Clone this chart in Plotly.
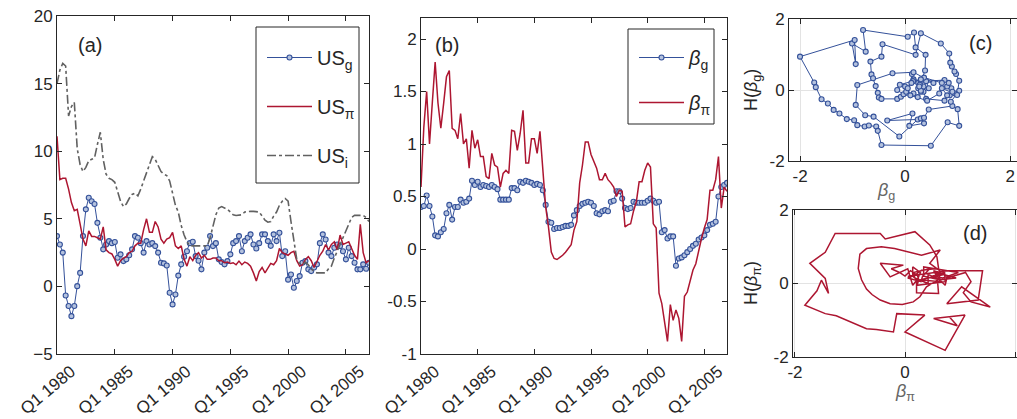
import plotly.graph_objects as go
import pandas as pd

W, H = 1017, 419
FONT = "Liberation Sans, Arial, sans-serif"
DARK = "#262626"
BLUE = "#34519a"
RED = "#ad1631"
GREY = "#616161"


def px(x):
    return x / W


def py(y):
    return 1 - y / H


# ---------------- data ----------------
quarters = pd.date_range("1980-01-01", periods=109, freq="QS")
tick_dates = ["1980-01-01", "1985-01-01", "1990-01-01", "1995-01-01", "2000-01-01", "2005-01-01"]
tick_text = ["Q1 1980", "Q1 1985", "Q1 1990", "Q1 1995", "Q1 2000", "Q1 2005"]

us_g = [3.72, 3.1, 2.5, -0.67, -1.45, -2.2, -1.45, 0.02, 1.0, 3.72,
        5.7, 6.56, 6.3, 6.1, 4.7, 3.6, 2.74, 3.1, 3.35, 3.2,
        3.28, 2.12, 2.37, 1.87, 2.0, 2.3, 2.74, 3.72, 3.6, 3.2,
        2.5, 3.35, 3.1, 3.2, 2.98, 2.5, 1.75, 1.7, 1.55, -0.47,
        -1.33, -0.6, 0.8, 1.63, 2.2, 2.6, 3.2, 3.3, 2.24, 1.9,
        1.26, 2.5, 2.86, 3.72, 2.98, 3.2, 2.0, 1.8, 1.63, 1.87,
        2.37, 3.2, 3.35, 3.72, 2.6, 3.35, 3.6, 3.85, 3.1, 2.8,
        3.2, 3.85, 3.85, 3.35, 3.0, 3.85, 3.35, 3.97, 2.24, 2.6,
        0.5, 0.88, -0.1, 0.4, 0.76, 1.75, 1.87, 1.26, 1.13, 1.4,
        1.63, 3.2, 3.85, 3.47, 2.5, 2.24, 2.86, 3.1, 2.98, 2.6,
        2.0, 2.86, 2.24, 1.75, 1.26, 1.26, 1.63, 1.3, 1.75]

us_pi = [11.1, 7.9, 8.0, 8.0, 7.2, 6.2, 5.6, 5.7, 4.6, 3.5,
         3.0, 4.1, 3.7, 3.7, 3.6, 3.5, 4.4, 2.7, 2.5, 2.4,
         2.0, 1.5, 1.9, 2.1, 2.2, 2.5, 2.6, 3.0, 3.2, 3.2,
         4.2, 5.0, 4.0, 4.0, 4.8, 4.4, 3.5, 3.2, 3.5, 3.6,
         4.0, 3.0, 2.8, 3.0, 2.0, 1.5, 2.2, 1.9, 2.3, 2.5,
         2.1, 2.3, 2.0, 2.0, 2.1, 2.1, 1.9, 1.9, 1.75, 1.8,
         1.7, 1.75, 1.6, 1.87, 1.6, 1.8, 1.7, 1.5, 1.0, 0.4,
         1.1, 1.4, 1.0, 1.4, 1.7, 1.6, 1.9, 2.8, 2.5, 2.4,
         2.3, 2.5, 2.6, 1.9, 1.5, 1.6, 2.0, 2.2, 1.9, 1.4,
         1.9, 2.3, 2.6, 3.1, 2.7, 3.1, 3.3, 2.7, 3.8, 3.1,
         3.2, 3.3, 2.8, 2.3, 2.0, 4.6, 2.5, 1.75, 1.9]

us_i = [15.0, 16.0, 16.5, 16.3, 12.6, 13.3, 13.6, 10.2, 9.0, 8.5,
        8.8, 9.3, 9.4, 9.5, 10.5, 11.4, 9.4, 8.3, 8.0, 7.9,
        7.7, 7.0, 6.3, 5.9, 6.1, 6.5, 6.8, 6.9, 6.7, 7.2,
        7.8, 8.5, 9.0, 9.6, 9.4, 8.9, 8.5, 8.3, 8.2, 7.8,
        6.8, 6.0, 5.5, 4.5, 3.8, 3.3, 3.0, 3.0, 3.0, 3.0,
        3.0, 3.0, 3.0, 3.6, 4.5, 5.3, 5.8, 5.9, 5.8, 5.7,
        5.5, 5.3, 5.25, 5.25, 5.3, 5.5, 5.55, 5.55, 5.55, 5.55,
        5.5, 5.2, 4.9, 4.75, 4.8, 5.2, 5.5, 6.0, 6.3, 6.5,
        6.3, 4.8, 3.2, 2.0, 1.7, 1.6, 1.8, 1.6, 1.3, 1.1,
        1.0, 1.0, 1.0, 1.0, 1.3, 1.5, 2.1, 2.6, 3.1, 3.7,
        4.2, 4.7, 5.1, 5.25, 5.25, 5.25, 5.25, 5.1, 4.8]

beta_g = [0.40, 0.41, 0.51, 0.41, 0.31, 0.13, 0.12, 0.16, 0.19, 0.34,
          0.42, 0.28, 0.40, 0.40, 0.47, 0.44, 0.45, 0.48, 0.65, 0.61,
          0.64, 0.59, 0.61, 0.60, 0.59, 0.61, 0.59, 0.57, 0.47, 0.47,
          0.47, 0.47, 0.58, 0.58, 0.56, 0.64, 0.63, 0.65, 0.64, 0.63,
          0.61, 0.62, 0.61, 0.56, 0.42, 0.26, 0.25, 0.19, 0.20, 0.20,
          0.21, 0.22, 0.22, 0.23, 0.32, 0.37,
          0.41, 0.43, 0.44, 0.45, 0.44, 0.41, 0.34, 0.33, 0.36, 0.37,
          0.36, 0.45, 0.46, 0.55, 0.55, 0.48, 0.39, 0.38, 0.39, 0.45,
          0.44, 0.44, 0.44, 0.44, 0.46, 0.48, 0.46, 0.44, 0.45, 0.16,
          0.18, 0.10, 0.12, 0.12, -0.16, -0.09, -0.08, -0.06, -0.03, 0.00,
          0.03, 0.05, 0.09, 0.11, 0.13, 0.18, 0.23, 0.24, 0.26, 0.50,
          0.59, 0.61, 0.63]

beta_pi = [0.59, 1.16, 1.5, 1.0, 1.4, 1.78, 1.39, 1.15, 1.39, 1.64,
           1.70, 1.15, 1.13, 1.05, 1.29, 1.0, 1.05, 0.77, 1.13, 0.96,
           1.04, 0.88, 0.88, 0.69, 0.67, 0.91, 0.8, 0.78, 0.59, 0.72,
           0.75, 0.72, 1.13, 1.12, 0.94, 1.10, 1.32, 0.82, 0.82, 1.05,
           1.05, 0.91, 1.12, 0.72, 0.40, 0.21, -0.03, -0.09, -0.1, -0.08,
           -0.06, -0.03, 0.0, 0.04, 0.18, 0.26,
           0.63, 0.8, 1.02, 1.02, 0.9, 0.83, 0.77, 0.66, 0.66, 0.72,
           0.66, 0.63, 0.59, 0.5, 0.56, 0.55, 0.21, 0.23, 0.24, 0.36,
           0.45, 0.64, 0.64, 0.75, 0.82, 0.78, 0.24, 0.2, -0.42, -0.52,
           -0.71, -0.88, -0.53, -0.68, -0.58, -0.66, -0.88, -0.45, -0.41, -0.3,
           -0.2, -0.14, -0.01, 0.10, 0.2, 0.28, 0.56, 0.56, 0.66, 0.88,
           0.39, 0.59, 0.55]

# phase portrait (c): normalised beta_g vs its Hilbert transform
c_beta = [0.13, 0.16, 0.54, 0.16, -0.24, -0.91, -0.94, -0.76, -0.60, -0.11,
          0.24, -0.34, 0.14, 0.08, 0.36, 0.30, 0.36, 0.45, 0.90, 0.87,
          1.03, 0.85, 0.95, 0.88, 0.80, 0.90, 0.83, 0.75, 0.40, 0.45,
          0.35, 0.40, 0.75, 0.80, 0.70, 0.99, 1.03, 0.97, 0.94, 0.89,
          0.86, 0.84, 0.68, 0.30, 0.20, -0.43, -0.45, -0.66, -0.64, -0.61,
          -0.56, -0.52, -0.50, -0.45, -0.15, -0.08, 0.16, 0.24, 0.30, 0.35,
          0.25, 0.15, -0.10, -0.15, -0.03, 0.02, 0.00, 0.30, 0.36, 0.70,
          0.65, 0.42, 0.10, 0.05, 0.12, 0.30, 0.28, 0.25, 0.30, 0.27,
          0.38, 0.39, 0.20, 0.17, 0.05, -0.80, -0.75, -1.01, -0.94, -0.96,
          -2.00, -1.73, -1.70, -1.59, -1.47, -1.36, -1.25, -1.11, -0.97, -0.91,
          -0.77, -0.69, -0.55, -0.52, -0.45, 0.49, 0.81, 1.03, 1.00]
c_h = [0.45, 0.30, 0.20, 0.50, 0.47, 0.14, -0.42, -0.71, -0.75, -1.31,
       -0.83, -0.86, -0.66, -1.01, -0.94, -0.80, -0.78, -0.55, -0.45, -0.33,
       -0.02, -0.15, -0.10, 0.05, 0.10, -0.05, 0.20, 0.28, 0.25, 0.05,
       -0.05, -0.25, -0.30, -0.15, 0.05, -0.14, 0.26, 0.45, 0.52, 0.66,
       0.77, 1.03, 1.31, 1.60, 0.99, 1.29, 0.94, 0.80, 0.44, 0.33,
       0.11, -0.08, -0.21, -0.25, -0.25, -0.19, -0.10, -0.20, -0.05, 0.10,
       0.20, 0.25, 0.15, 0.00, -0.12, -0.05, 0.10, 0.25, 0.35, 0.20,
       -0.10, -0.30, -0.15, 0.05, 0.20, 0.30, 0.15, 0.05, -0.02, 0.10,
       0.55, 0.99, 1.20, 1.62, 1.50, 1.69, 1.08, 1.31, 0.73, 1.41,
       0.94, 0.21, 0.08, -0.26, -0.38, -0.56, -0.66, -0.82, -0.85, -0.99,
       -1.03, -1.00, -1.03, -1.15, -1.55, -1.57, -0.91, -1.01, -0.54]

# phase portrait (d): normalised beta_pi vs its Hilbert transform
d_beta = [0.05, 0.77, 1.41, 1.33, 0.76, 1.03, 1.55, 1.20, 1.06, 1.20,
          1.10, 0.76, 0.73, 0.63, 0.93, 0.57, 0.63, 0.28, 0.73, 0.52,
          0.62, 0.42, 0.42, 0.18, 0.15, 0.45, 0.32, 0.29, 0.05, 0.22,
          0.25, 0.22, 0.73, 0.72, 0.49, 0.69, 0.97, 0.34, 0.34, 0.63,
          0.63, 0.45, 0.64, 0.30, -0.19, -0.43, -0.70, -0.82, -0.85, -0.79,
          -0.70, -0.60, -0.45, -0.27, -0.05, 0.15, 0.27, 0.39, 0.59, 0.61,
          0.21, 0.21, 0.28, 0.14, 0.14, 0.22, 0.14, 0.10, 0.05, -0.27,
          -0.45, -0.03, -0.25, -0.10, 0.00, 0.10, 0.20, 0.30, 0.61, 0.58,
          0.45, 0.18, -0.36, -0.45, -1.27, -1.45, -1.73, -1.45, -1.39, -1.52,
          -1.60, -1.82, -1.45, -1.25, -1.07, -0.94, -0.82, -0.70, -0.52, -0.38,
          -0.21, -0.15, 0.36, 0.00, 0.73, 1.09, 0.52, 0.95, 0.80]
d_h = [0.20, 0.35, 0.35, -0.45, -0.55, -0.09, -0.64, -0.50, -0.25, 0.05,
       0.30, 0.15, -0.05, 0.10, 0.15, 0.30, 0.05, 0.10, 0.25, 0.35,
       0.10, 0.25, 0.00, 0.15, 0.30, 0.40, 0.20, 0.05, 0.15, 0.25,
       0.10, -0.05, 0.05, 0.30, 0.20, 0.15, 0.30, 0.45, 0.20, 0.10,
       0.35, 0.55, 0.91, 0.77, 0.95, 1.00, 0.95, 0.80, 0.41, 0.10,
       -0.15, -0.30, -0.45, -0.55, -0.57, -0.50, -0.36, -0.09, 0.09, -0.27,
       -0.25, 0.05, 0.30, 0.45, 0.20, 0.10, -0.05, 0.15, 0.40, 0.18,
       0.55, 0.50, 0.40, 0.30, 0.20, 0.35, 0.25, 0.36, 0.41, 0.73,
       1.05, 1.41, 1.21, 1.36, 1.36, 0.85, 0.55, 0.14, -0.27, 0.09,
       -0.20, -0.59, -0.82, -0.88, -1.00, -1.08, -1.15, -1.23, -1.25, -1.28,
       -1.32, -0.82, -0.86, -1.32, -1.82, -0.86, -0.95, -1.15, -0.90]

# ---------------- figure ----------------
fig = go.Figure()

blue_marker = dict(symbol="circle", size=5, color="#b4c2de", line=dict(color=BLUE, width=1.1))

fig.add_trace(go.Scatter(x=quarters, y=us_g, mode="lines+markers", name="US<sub>g</sub>",
                         line=dict(color=BLUE, width=1), marker=blue_marker,
                         xaxis="x", yaxis="y", legend="legend", legendgroup="a1"))
fig.add_trace(go.Scatter(x=quarters, y=us_pi, mode="lines", name="US<sub>π</sub>",
                         line=dict(color=RED, width=1.5),
                         xaxis="x", yaxis="y", legend="legend", legendgroup="a2"))
fig.add_trace(go.Scatter(x=quarters, y=us_i, mode="lines", name="US<sub>i</sub>",
                         line=dict(color=GREY, width=1.6, dash="dashdot"),
                         xaxis="x", yaxis="y", legend="legend", legendgroup="a3"))

fig.add_trace(go.Scatter(x=quarters, y=beta_g, mode="lines+markers", name="<i>β</i><sub>g</sub>",
                         line=dict(color=BLUE, width=1), marker=blue_marker,
                         xaxis="x2", yaxis="y2", legend="legend2", legendgroup="b1"))
fig.add_trace(go.Scatter(x=quarters, y=beta_pi, mode="lines", name="<i>β</i><sub>π</sub>",
                         line=dict(color=RED, width=1.5),
                         xaxis="x2", yaxis="y2", legend="legend2", legendgroup="b2"))

fig.add_trace(go.Scatter(x=c_beta, y=c_h, mode="lines+markers", showlegend=False,
                         line=dict(color=BLUE, width=1), marker=blue_marker,
                         xaxis="x3", yaxis="y3"))
fig.add_trace(go.Scatter(x=d_beta, y=d_h, mode="lines", showlegend=False,
                         line=dict(color=RED, width=1.5),
                         xaxis="x4", yaxis="y4"))

base_axis = dict(showline=True, linecolor=DARK, linewidth=1, mirror="ticks",
                 ticks="inside", ticklen=5, tickcolor=DARK, tickwidth=1,
                 tickfont=dict(family=FONT, size=17, color=DARK),
                 showgrid=False, zeroline=False, automargin=False)

date_axis = dict(base_axis, type="date", tickmode="array", tickvals=tick_dates, ticktext=tick_text,
                 tickangle=-40, ticklabelshift=14, range=["1980-01-01", "2007-01-01"])

grid_axis = dict(base_axis, showgrid=True, gridcolor="#e3e3e3", gridwidth=1,
                 tickmode="array", tickvals=[-2, 0, 2], ticktext=["-2", "0", "2"])

fig.update_layout(
    width=W, height=H,
    margin=dict(l=0, r=0, t=0, b=0, autoexpand=False),
    paper_bgcolor="white", plot_bgcolor="white",
    font=dict(family=FONT, color=DARK),
    xaxis=dict(date_axis, domain=[px(57), px(369)], anchor="y"),
    yaxis=dict(base_axis, domain=[py(354), py(16)], range=[-5, 20], anchor="x",
               tickmode="array", tickvals=[-5, 0, 5, 10, 15, 20]),
    xaxis2=dict(date_axis, domain=[px(421), px(727)], anchor="y2"),
    yaxis2=dict(base_axis, domain=[py(354), py(18)], range=[-1, 2.2], anchor="x2",
                tickmode="array", tickvals=[-1, -0.5, 0, 0.5, 1, 1.5, 2],
                ticktext=["-1", "-0.5", "0", "0.5", "1", "1.5", "2"]),
    xaxis3=dict(grid_axis, domain=[px(789), 1.0], range=[-2.21, 2.13], anchor="y3"),
    yaxis3=dict(grid_axis, domain=[py(161), py(19)], range=[-2, 2], anchor="x3"),
    xaxis4=dict(grid_axis, domain=[px(793), 1.0], range=[-2.036, 2.036], anchor="y4"),
    yaxis4=dict(grid_axis, domain=[py(357), py(210)], range=[-2, 2], anchor="x4"),
    legend=dict(x=px(262), y=py(38), xanchor="left", yanchor="top", bgcolor="rgba(0,0,0,0)",
                borderwidth=0, font=dict(family=FONT, size=20, color=DARK),
                tracegroupgap=20, itemwidth=45, traceorder="grouped"),
    legend2=dict(x=px(634), y=py(38), xanchor="left", yanchor="top", bgcolor="rgba(0,0,0,0)",
                 borderwidth=0, font=dict(family=FONT, size=20, color=DARK),
                 tracegroupgap=16, itemwidth=45, traceorder="grouped"),
    shapes=[
        dict(type="rect", xref="paper", yref="paper", x0=px(256), x1=px(359), y0=py(183), y1=py(27),
             line=dict(color=DARK, width=1), fillcolor="rgba(0,0,0,0)"),
        dict(type="rect", xref="paper", yref="paper", x0=px(628), x1=px(714), y0=py(124), y1=py(29),
             line=dict(color=DARK, width=1), fillcolor="rgba(0,0,0,0)"),
    ],
)

ann_font = dict(family=FONT, size=20, color=DARK)
annotations = [
    dict(text="(a)", x=px(90), y=py(45)),
    dict(text="(b)", x=px(447), y=py(45)),
    dict(text="(c)", x=px(980), y=py(43)),
    dict(text="(d)", x=px(975), y=py(233)),
]
for a in annotations:
    a.update(xref="paper", yref="paper", showarrow=False, font=ann_font, xanchor="center", yanchor="middle")

title_font = dict(family=FONT, size=18, color=DARK)
annotations += [
    dict(text="H(<i>β</i><sub>g</sub>)", x=px(752), y=py(90), textangle=-90),
    dict(text="<i>β</i><sub>g</sub>", x=px(886), y=py(192), font=dict(family=FONT, size=18, color="#666666")),
    dict(text="H(<i>β</i><sub>π</sub>)", x=px(752), y=py(283), textangle=-90),
    dict(text="<i>β</i><sub>π</sub>", x=px(905), y=py(392), font=dict(family=FONT, size=18, color="#666666")),
]
for a in annotations[4:]:
    a.setdefault("font", title_font)
    a.update(xref="paper", yref="paper", showarrow=False, xanchor="center", yanchor="middle")

fig.update_layout(annotations=annotations)

fig.write_html("out.html",
               config={"displayModeBar": False},
               post_script="document.body.style.margin='0';document.body.style.padding='0';"
                           "document.documentElement.style.overflow='hidden';")
